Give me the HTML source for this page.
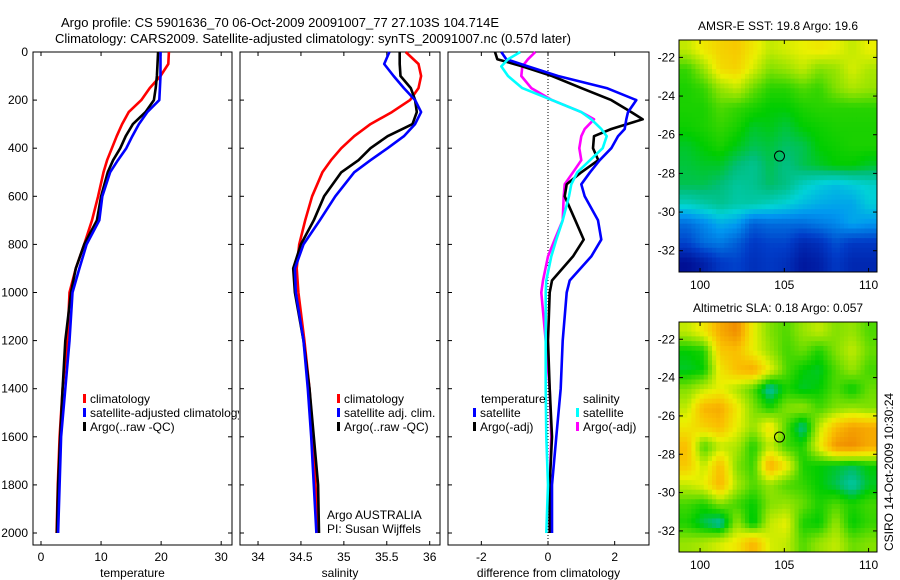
<!DOCTYPE html>
<html><head><meta charset="utf-8"><style>
html,body{margin:0;padding:0;background:#fff;}
svg{display:block;font-family:"Liberation Sans",sans-serif;}
</style></head><body>
<svg id="fig" width="900" height="580" viewBox="0 0 900 580"></svg>
<script>
// ---- data ----
const depths=[0,50,100,150,200,250,300,350,400,450,500,600,700,800,900,1000,1200,1400,1600,1800,2000];
const tempClim=[21.3,21.2,19.9,18.1,16.7,14.6,13.5,12.6,11.8,11.0,10.4,9.5,8.5,7.2,5.8,4.75,4.4,3.6,3.1,2.8,2.6];
const tempSat=[19.9,19.9,19.9,19.8,19.7,17.7,16.3,15.2,14.2,12.8,11.5,10.2,9.7,7.6,6.4,5.25,4.75,4.05,3.35,3.1,2.85];
const tempArgo=[19.5,19.4,19.3,19.1,18.8,17.4,15.3,14.1,13.2,12.0,11.1,10.0,9.3,7.2,5.8,5.0,4.05,3.6,3.2,2.85,2.65];
const salClim=[35.72,35.87,35.9,35.87,35.77,35.56,35.31,35.12,34.97,34.85,34.75,34.63,34.55,34.48,34.45,34.47,34.54,34.6,34.64,34.67,34.7];
const salSat=[35.53,35.47,35.58,35.7,35.83,35.9,35.83,35.7,35.51,35.31,35.12,34.9,34.72,34.53,34.43,34.44,34.53,34.58,34.62,34.65,34.68];
const salArgo=[35.65,35.65,35.66,35.78,35.83,35.85,35.8,35.51,35.31,35.17,34.97,34.77,34.65,34.5,34.41,34.43,34.53,34.6,34.65,34.7,34.71];
const diffDepths=[0,30,60,100,150,200,250,280,320,350,400,450,500,550,600,700,780,850,950,1000,1200,1400,1600,1800,2000];
const dTempSat=[-1.4,-1.25,-0.6,0.3,1.76,2.65,2.4,2.35,2.3,2.1,1.9,1.55,1.26,1.0,1.1,1.5,1.6,1.3,0.65,0.56,0.44,0.38,0.25,0.12,0.12];
const dTempArgo=[-1.59,-1.52,-0.77,0.12,1.0,1.9,2.5,2.84,1.9,1.38,1.35,1.51,1.0,0.56,0.5,0.82,1.07,0.75,0.12,0.05,0.0,0.05,0.12,0.05,0.05];
const dSalSat=[-0.83,-1.2,-1.4,-1.2,-0.77,0.12,1.0,1.3,1.6,1.76,1.64,1.26,0.88,0.7,0.63,0.44,0.25,0.1,-0.05,-0.07,-0.07,-0.07,-0.05,0,-0.05];
const dSalArgo=[-0.38,-0.6,-0.77,-0.8,-0.5,0.12,1.0,1.38,1.1,1.0,0.94,1.0,0.75,0.5,0.47,0.44,0.2,0.0,-0.15,-0.2,-0.07,0.05,0.1,0.05,0.05];
const tempTicks=[0,10,20,30];
const salTicks=[34,34.5,35,35.5,36];
const diffTicks=[-2,0,2];
const depthTicks=[0,200,400,600,800,1000,1200,1400,1600,1800,2000];
const latTicks=[-22,-24,-26,-28,-30,-32];
const lonTicks=[100,105,110];
const sstGrid=[
[0.66,0.72,0.76,0.78,0.72,0.66,0.68,0.7,0.72,0.7,0.66,0.7],
[0.54,0.62,0.74,0.76,0.68,0.6,0.62,0.66,0.6,0.62,0.68,0.64],
[0.52,0.54,0.62,0.66,0.58,0.53,0.53,0.56,0.54,0.6,0.64,0.62],
[0.52,0.52,0.56,0.54,0.52,0.5,0.5,0.52,0.53,0.53,0.53,0.53],
[0.51,0.52,0.54,0.52,0.48,0.49,0.47,0.5,0.51,0.52,0.52,0.52],
[0.48,0.5,0.52,0.49,0.46,0.47,0.45,0.46,0.5,0.51,0.52,0.52],
[0.47,0.48,0.48,0.44,0.42,0.46,0.43,0.46,0.48,0.5,0.5,0.48],
[0.46,0.46,0.44,0.41,0.42,0.45,0.43,0.38,0.35,0.33,0.35,0.37],
[0.38,0.4,0.42,0.4,0.4,0.38,0.36,0.33,0.31,0.3,0.3,0.35],
[0.22,0.26,0.31,0.29,0.2,0.22,0.22,0.22,0.24,0.26,0.3,0.28],
[0.16,0.22,0.24,0.2,0.14,0.16,0.16,0.1,0.12,0.18,0.14,0.14],
[0.04,0.08,0.14,0.16,0.12,0.14,0.12,0.06,0.08,0.14,0.1,0.1]];
const slaGrid=[
[0.66,0.72,0.84,0.9,0.7,0.6,0.56,0.62,0.66,0.6,0.62,0.56],
[0.5,0.52,0.78,0.8,0.7,0.62,0.55,0.58,0.52,0.6,0.66,0.58],
[0.48,0.5,0.72,0.8,0.84,0.7,0.56,0.5,0.48,0.56,0.62,0.55],
[0.6,0.66,0.7,0.64,0.56,0.4,0.52,0.48,0.5,0.56,0.5,0.58],
[0.66,0.82,0.84,0.72,0.6,0.52,0.6,0.62,0.55,0.6,0.62,0.6],
[0.72,0.76,0.8,0.7,0.62,0.74,0.56,0.42,0.66,0.8,0.86,0.84],
[0.8,0.55,0.66,0.64,0.52,0.66,0.55,0.52,0.7,0.88,0.9,0.84],
[0.78,0.66,0.8,0.6,0.54,0.84,0.72,0.52,0.5,0.48,0.46,0.5],
[0.66,0.7,0.82,0.64,0.56,0.62,0.56,0.54,0.5,0.46,0.4,0.48],
[0.55,0.52,0.6,0.55,0.5,0.6,0.62,0.58,0.52,0.56,0.52,0.55],
[0.52,0.46,0.4,0.62,0.48,0.66,0.7,0.52,0.5,0.62,0.5,0.54],
[0.62,0.64,0.68,0.72,0.82,0.68,0.66,0.56,0.62,0.66,0.58,0.6]];
const argoLon=104.714, argoLat=-27.103;

// ---- helpers ----
const NS="http://www.w3.org/2000/svg";
const svg=document.getElementById('fig');
function mk(tag,attrs,parent){const e=document.createElementNS(NS,tag);for(const k in attrs)e.setAttribute(k,attrs[k]);(parent||svg).appendChild(e);return e;}
function txt(x,y,s,anchor,size,parent){const t=mk('text',{x:x,y:y,'font-size':size||12,'text-anchor':anchor||'start',fill:'#000'},parent);t.textContent=s;return t;}

const yTop=52, yPer=0.2405, yBot=545;
function yD(d){return yTop+d*yPer;}
const panels=[
 {x0:33,x1:232,vmin:-1.33,vmax:31.8,ticks:tempTicks,label:'temperature',name:'temperature-panel'},
 {x0:240,x1:440,vmin:33.79,vmax:36.12,ticks:salTicks,label:'salinity',name:'salinity-panel'},
 {x0:448,x1:649,vmin:-3.0,vmax:3.03,ticks:diffTicks,label:'difference from climatology',name:'difference-panel'}];
function xS(p,v){return p.x0+(v-p.vmin)/(p.vmax-p.vmin)*(p.x1-p.x0);}

const defs=mk('defs',{});
const cp=mk('clipPath',{id:'clip1'},defs);mk('rect',{x:0,y:0,width:239,height:580},cp);
panels.forEach((p,i)=>{const c=mk('clipPath',{id:'pc'+i},defs);mk('rect',{x:p.x0,y:yTop-2,width:p.x1-p.x0,height:yBot-yTop+2},c);});

const t1=txt(61,27,'Argo profile: CS 5901636_70 06-Oct-2009 20091007_77 27.103S 104.714E','start',13);


const t2=txt(55,43,'Climatology: CARS2009. Satellite-adjusted climatology: synTS_20091007.nc (0.57d later)','start',13);



panels.forEach((p,i)=>{
  const g=mk('g',{});
  
  
  mk('rect',{x:p.x0,y:yTop,width:p.x1-p.x0,height:yBot-yTop,fill:'none',stroke:'#000','stroke-width':1},g);
  depthTicks.forEach(d=>{
    mk('line',{x1:p.x0,x2:p.x0+4,y1:yD(d),y2:yD(d),stroke:'#000'},g);
    mk('line',{x1:p.x1-4,x2:p.x1,y1:yD(d),y2:yD(d),stroke:'#000'},g);
    if(i===0){const l=txt(p.x0-5,yD(d)+4,String(d),'end',12,g);}
  });
  p.ticks.forEach(v=>{
    const x=xS(p,v);
    mk('line',{x1:x,x2:x,y1:yBot,y2:yBot-4,stroke:'#000'},g);
    mk('line',{x1:x,x2:x,y1:yTop,y2:yTop+4,stroke:'#000'},g);
    const l=txt(x,561,String(v),'middle',12,g);
    
    
  });
  const at=txt((p.x0+p.x1)/2,577,p.label,'middle',12,g);
  
  
});
const zl=mk('line',{x1:xS(panels[2],0),x2:xS(panels[2],0),y1:yTop,y2:yBot,stroke:'#000','stroke-dasharray':'1,2','stroke-width':1});



function drawLine(pi,vals,ds,color,name){
  const p=panels[pi];
  const pts=vals.map((v,k)=>xS(p,v).toFixed(1)+','+yD(ds[k]).toFixed(1)).join(' ');
  const l=mk('polyline',{points:pts,fill:'none',stroke:color,'stroke-width':2.6,'stroke-linejoin':'round','clip-path':'url(#pc'+pi+')'});
  
  
}
drawLine(0,tempClim,depths,'#ff0000','temp-climatology-line');
drawLine(0,tempArgo,depths,'#000000','temp-argo-line');
drawLine(0,tempSat,depths,'#0000ff','temp-satellite-line');
drawLine(1,salClim,depths,'#ff0000','sal-climatology-line');
drawLine(1,salArgo,depths,'#000000','sal-argo-line');
drawLine(1,salSat,depths,'#0000ff','sal-satellite-line');
drawLine(2,dSalArgo,diffDepths,'#ff00ff','diff-sal-argo-line');
drawLine(2,dTempArgo,diffDepths,'#000000','diff-temp-argo-line');
drawLine(2,dTempSat,diffDepths,'#0000ff','diff-temp-satellite-line');
drawLine(2,dSalSat,diffDepths,'#00ffff','diff-sal-satellite-line');

function legend(x,y,color,label,name,clip){
  const g=mk('g',clip?{'clip-path':'url(#clip1)'}:{});
  
  
  mk('rect',{x:x,y:y-9,width:3,height:9,fill:color},g);
  txt(x+7,y,label,'start',12,g);
}
legend(83,403,'#ff0000','climatology','legend-temp-climatology',true);
legend(83,417,'#0000ff','satellite-adjusted climatology','legend-temp-satellite',true);
legend(83,431,'#000000','Argo(..raw -QC)','legend-temp-argo',true);
legend(337,403,'#ff0000','climatology','legend-sal-climatology');
legend(337,417,'#0000ff','satellite adj. clim.','legend-sal-satellite');
legend(337,431,'#000000','Argo(..raw -QC)','legend-sal-argo');
const lt=txt(481,403,'temperature','start',12);
const ls=txt(583,403,'salinity','start',12);
legend(473,417,'#0000ff','satellite','legend-diff-temp-satellite');
legend(473,431,'#000000','Argo(-adj)','legend-diff-temp-argo');
legend(576,417,'#00ffff','satellite','legend-diff-sal-satellite');
legend(576,431,'#ff00ff','Argo(-adj)','legend-diff-sal-argo');
const a1=txt(327,519,'Argo AUSTRALIA','start',12);
const a2=txt(327,533,'PI: Susan Wijffels','start',12);

// ---- maps ----
const stops=[[0,[0,0,130]],[0.15,[0,60,200]],[0.28,[0,150,240]],[0.36,[0,210,215]],[0.44,[0,190,120]],[0.5,[0,205,0]],[0.6,[130,225,0]],[0.7,[235,240,0]],[0.8,[250,190,0]],[0.9,[240,140,0]],[1,[200,80,0]]];
function cmap(v){v=Math.max(0,Math.min(1,v));for(let i=1;i<stops.length;i++){if(v<=stops[i][0]){const a=stops[i-1],b=stops[i];const t=(v-a[0])/(b[0]-a[0]);const c=a[1].map((q,k)=>Math.round(q+(b[1][k]-q)*t));return 'rgb('+c.join(',')+')';}}return 'rgb(200,80,0)';}
function sample(grid,fr,fc){
  const R=grid.length,C=grid[0].length;
  fr=Math.max(0,Math.min(R-1,fr));fc=Math.max(0,Math.min(C-1,fc));
  const r0=Math.floor(fr),c0=Math.floor(fc),r1=Math.min(R-1,r0+1),c1=Math.min(C-1,c0+1);
  const tr=fr-r0,tc=fc-c0;
  return (grid[r0][c0]*(1-tc)+grid[r0][c1]*tc)*(1-tr)+(grid[r1][c0]*(1-tc)+grid[r1][c1]*tc)*tr;
}
const lonMin=98.75, lonMax=110.5, latMax=-21.1, latMin=-33.1;
function drawMap(y0,y1,grid,title,name){
  const x0=679,x1=877;
  const g=mk('g',{});
  
  
  const lx=v=>x0+(v-lonMin)/(lonMax-lonMin)*(x1-x0);
  const ly=v=>y0+(latMax-v)/(latMax-latMin)*(y1-y0);
  const rows=grid.length, cols=grid[0].length, sub=4;
  const cw=(x1-x0)/(cols*sub), ch=(y1-y0)/(rows*sub);
  for(let r=0;r<rows*sub;r++)for(let c=0;c<cols*sub;c++){
    const v=sample(grid,(r+0.5)/sub-0.5,(c+0.5)/sub-0.5);
    const cell=mk('rect',{x:(x0+c*cw).toFixed(2),y:(y0+r*ch).toFixed(2),width:(cw+0.5).toFixed(2),height:(ch+0.5).toFixed(2),fill:cmap(v)},g);
    
    
  }
  mk('rect',{x:x0,y:y0,width:x1-x0,height:y1-y0,fill:'none',stroke:'#000'},g);
  latTicks.forEach(v=>{const y=ly(v);mk('line',{x1:x0,x2:x0+4,y1:y,y2:y,stroke:'#000'},g);mk('line',{x1:x1-4,x2:x1,y1:y,y2:y,stroke:'#000'},g);txt(x0-4,y+4,String(v),'end',12,g);});
  lonTicks.forEach(v=>{const x=lx(v);mk('line',{x1:x,x2:x,y1:y1,y2:y1-4,stroke:'#000'},g);mk('line',{x1:x,x2:x,y1:y0,y2:y0+4,stroke:'#000'},g);txt(x,y1+17,String(v),'middle',12,g);});
  const c=mk('ellipse',{cx:lx(argoLon),cy:ly(argoLat),rx:5,ry:5,fill:'none',stroke:'#000','stroke-width':1},g);
  
  
  const t=txt((x0+x1)/2,y0-10,title,'middle',12,g);
  
  
}
drawMap(40,272,sstGrid,'AMSR-E SST: 19.8 Argo: 19.6','sst-map');
drawMap(322,552,slaGrid,'Altimetric SLA: 0.18 Argo: 0.057','sla-map');
const cs=txt(0,0,'CSIRO 14-Oct-2009 10:30:24','middle',12);
cs.setAttribute('transform','translate(893,472) rotate(-90)');


</script>
</body></html>
